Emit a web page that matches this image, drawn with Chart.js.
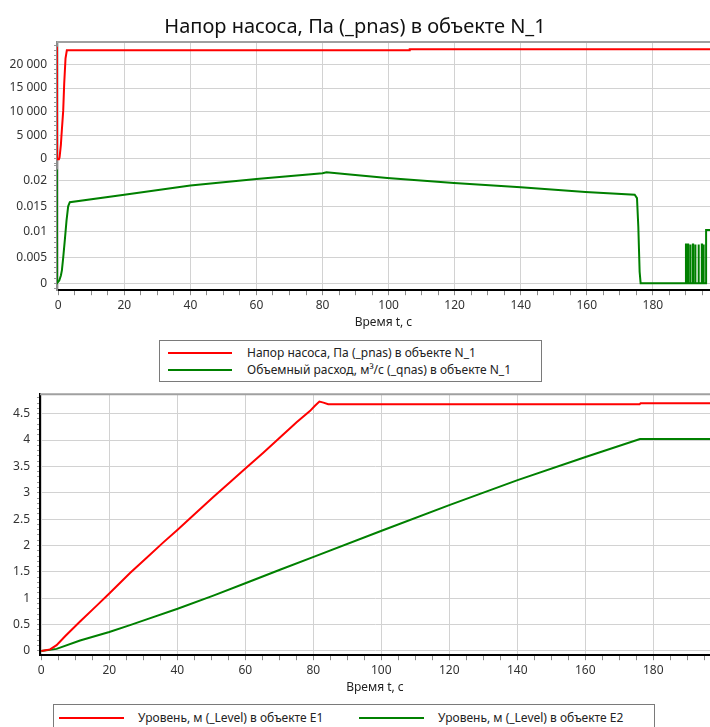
<!DOCTYPE html>
<html>
<head>
<meta charset="utf-8">
<script src="https://cdn.jsdelivr.net/npm/chart.js@4"></script>
<style>
  body { margin:0; background:#fff; width:710px; height:727px; overflow:hidden; position:relative;
         font-family:"Noto Sans", sans-serif; }
  #c1 { position:absolute; left:0; top:0; }
  #c2 { position:absolute; left:0; top:380px; }
  .legend { position:absolute; box-sizing:border-box; border:1px solid #7a7a7a; background:#fff;
            font-size:12px; color:#222; }
  .legend .txt { position:absolute; white-space:nowrap; line-height:16px; }
  .legend .sw { position:absolute; height:2px; }
</style>
</head>
<body>
<canvas id="c1" width="710" height="336"></canvas>
<canvas id="c2" width="710" height="320"></canvas>

<div class="legend" style="left:159px;top:340px;width:383px;height:42px;">
  <div class="sw" style="left:8px;top:11px;width:64px;background:#ff0000"></div>
  <div class="txt" style="left:87px;top:4px;">Напор насоса, Па (_pnas) в объекте N_1</div>
  <div class="sw" style="left:8px;top:28px;width:64px;background:#008000"></div>
  <div class="txt" style="left:87px;top:21px;">Объемный расход, м³/с (_qnas) в объекте N_1</div>
</div>
<div class="legend" style="left:53px;top:704px;width:602px;height:30px;">
  <div class="sw" style="left:5px;top:12px;width:65px;background:#ff0000"></div>
  <div class="txt" style="left:84px;top:5px;">Уровень, м (_Level) в объекте E1</div>
  <div class="sw" style="left:305px;top:12px;width:65px;background:#008000"></div>
  <div class="txt" style="left:384px;top:5px;">Уровень, м (_Level) в объекте E2</div>
</div>

<script>
/* ——— data read off the picture ——— */
// pump head, Pa
const pnasT = [-0.4, -0.35, 0.2, 0.4, 0.8, 1.0, 1.5, 1.8, 2.2, 2.6, 106.3, 106.4, 197.3];
const pnasV = [23750, -130, -130, 300, 3000, 5200, 10200, 15900, 21300, 23000, 23000, 23200, 23200];

// volume flow, m3/s (pump start, slow drift, stop, then short on/off pulses)
const qnasT = [-0.4, -0.35, 0.3, 0.8, 1.1, 1.5, 2.0, 2.5, 3.0, 3.5, 20, 40, 60, 80, 81.2, 88.3, 99.6,
               119.8, 140, 159.6, 174.5, 175.2, 175.6, 176.0, 176.3,
               190.0, 190.02, 190.1, 190.12,
               190.6, 190.62, 190.7, 190.72,
               191.3, 191.32, 191.4, 191.42,
               192.1, 192.12, 192.2, 192.22,
               192.8, 192.82, 192.9, 192.92,
               193.8, 193.82, 193.9, 193.92,
               194.8, 194.82, 194.9, 194.92,
               195.3, 195.32, 195.4, 195.42,
               196.1, 196.12, 197.3];
const qnasV = [0.0222, 0, 0.0005, 0.0015, 0.0025, 0.005, 0.0085, 0.0122, 0.015, 0.0158, 0.01727, 0.01905,
               0.02035, 0.02147, 0.02167, 0.02121, 0.02055, 0.01957, 0.01871, 0.01779, 0.01727, 0.0166,
               0.011, 0.0022, 0,
               0, 0.00755, 0.00755, 0,
               0, 0.00755, 0.00755, 0,
               0, 0.00755, 0.00755, 0,
               0, 0.00755, 0.00755, 0,
               0, 0.00755, 0.00755, 0,
               0, 0.00755, 0.00755, 0,
               0, 0.00755, 0.00755, 0,
               0, 0.00755, 0.00755, 0,
               0, 0.0104, 0.0104];

// tank levels, m
const levelT  = [0, 2.6, 4.5, 7.0, 11.4, 16.3, 20, 26.1, 31, 35.9, 40.1, 45.7, 50.6, 55.5, 60.2,
                 65.3, 70.2, 75.1, 79.0, 80.5, 81.8, 83.0, 84.4, 176.0, 176.3, 196.7];
const levelE1 = [0, 0.03, 0.11, 0.28, 0.56, 0.86, 1.09, 1.48, 1.77, 2.06, 2.30, 2.63, 2.92, 3.20, 3.47,
                 3.76, 4.05, 4.34, 4.55, 4.65, 4.73, 4.71, 4.68, 4.68, 4.70, 4.70];
const level2T  = [0, 4.5, 11.4, 20, 26.1, 31, 40.1, 50.6, 60.2, 70.2, 80.3, 100.1, 120.2, 140.1, 160.1, 176.1, 196.7];
const levelE2  = [0, 0.04, 0.20, 0.36, 0.49, 0.60, 0.80, 1.05, 1.29, 1.54, 1.79, 2.28, 2.77, 3.24, 3.68, 4.02, 4.02];

const TITLE = 'Напор насоса, Па (_pnas) в объекте N_1';
const X_TITLE = 'Время t, с';

/* ——— helpers ——— */
const pts = (t, v) => t.map((x, i) => ({ x, y: v[i] }));
const FONT = { family: '"Noto Sans", sans-serif', size: 12 };
const GRID = '#d2d2d2';
const isMajor = (v, step, every) => Math.round(v / step) % every === 0;
const thousands = v => String(Math.round(v)).replace(/\B(?=(\d{3})+(?!\d))/g, ' ');

// ticks every `step` inside [min, max] (majors get a label + grid line)
const stepTicks = (min, max, step) => {
  const a = [];
  for (let k = Math.ceil(min / step - 1e-9); k * step <= max + 1e-9; k++) a.push({ value: k * step });
  return a;
};

const frameTop = {
  id: 'frameTop',
  beforeDatasetsDraw(chart) {
    const { ctx, chartArea: a } = chart;
    ctx.save();
    ctx.strokeStyle = '#a0a0a0'; ctx.lineWidth = 2;
    ctx.beginPath(); ctx.moveTo(a.left, a.top); ctx.lineTo(a.right + 2, a.top); ctx.stroke();
    ctx.restore();
  }
};

const xAxis = (min, max) => ({
  type: 'linear', min, max, position: 'bottom',
  border: { color: '#000', width: 2 },
  grid: {
    color: c => (c.tick && isMajor(c.tick.value, 5, 4)) ? GRID : 'rgba(0,0,0,0)',
    tickColor: '#8a8a8a', tickLength: 5
  },
  ticks: {
    autoSkip: false, maxRotation: 0, padding: 3,
    color: '#333', font: FONT,
    callback: v => isMajor(v, 5, 4) ? String(Math.round(v)) : ''
  },
  afterBuildTicks: s => { s.ticks = stepTicks(min, max, 5); },
  title: { display: true, text: X_TITLE, color: '#222', font: FONT, padding: { top: 0, bottom: 0 } }
});

const yAxis = (o) => ({
  type: 'linear', position: 'left', min: o.min, max: o.max,
  stack: o.stack, stackWeight: o.weight,
  border: { color: o.border, width: 2 },
  grid: {
    color: c => (c.tick && isMajor(c.tick.value, o.step, o.every)) ? GRID : 'rgba(0,0,0,0)',
    tickColor: '#9a9a9a', tickLength: 3
  },
  ticks: {
    autoSkip: false, padding: 7,
    color: '#333', font: FONT,
    callback: v => isMajor(v, o.step, o.every) ? o.fmt(v) : ''
  },
  afterBuildTicks: s => { s.ticks = stepTicks(o.min, o.max, o.step); },
  afterFit: s => { s.width = o.width; }
});

const line = (label, data, colour, axis) => ({
  label, data, borderColor: colour, backgroundColor: colour, yAxisID: axis,
  borderWidth: 2, pointRadius: 0, tension: 0, fill: false
});

/* ——— top chart: head + flow on stacked axes ——— */
new Chart(document.getElementById('c1'), {
  type: 'line',
  data: {
    datasets: [
      line('Напор насоса, Па (_pnas) в объекте N_1', pts(pnasT, pnasV), '#ff0000', 'yP'),
      line('Объемный расход, м³/с (_qnas) в объекте N_1', pts(qnasT, qnasV), '#008000', 'yQ')
    ]
  },
  options: {
    responsive: false, animation: false,
    layout: { padding: { left: 0, right: 0, top: 0, bottom: 6 } },
    plugins: {
      legend: { display: false }, tooltip: { enabled: false },
      title: { display: true, text: TITLE, color: '#111',
               font: { family: '"Noto Sans", sans-serif', size: 20, weight: 'normal' },
               padding: { top: 15, bottom: 3 } }
    },
    scales: {
      x: xAxis(-0.38, 197.3),
      yQ: yAxis({ min: -0.00138, max: 0.02325, step: 0.001, every: 5, stack: 'n1', weight: 125,
                  border: '#8c8c8c', width: 57, fmt: v => String(Math.round(v * 1000) / 1000) }),
      yP: yAxis({ min: -1130, max: 24760, step: 1000, every: 5, stack: 'n1', weight: 121,
                  border: '#8c8c8c', width: 57, fmt: thousands })
    }
  },
  plugins: [frameTop]
});

/* ——— bottom chart: tank levels ——— */
new Chart(document.getElementById('c2'), {
  type: 'line',
  data: {
    datasets: [
      line('Уровень, м (_Level) в объекте E1', pts(levelT, levelE1), '#ff0000', 'y'),
      line('Уровень, м (_Level) в объекте E2', pts(level2T, levelE2), '#008000', 'y')
    ]
  },
  options: {
    responsive: false, animation: false,
    layout: { padding: { left: 0, right: 0, top: 9, bottom: 5 } },
    plugins: { legend: { display: false }, tooltip: { enabled: false } },
    scales: {
      x: xAxis(-0.38, 196.7),
      y: yAxis({ min: -0.08, max: 4.87, step: 0.1, every: 5, border: '#000', width: 40,
                 fmt: v => String(Math.round(v * 10) / 10) })
    }
  },
  plugins: [frameTop]
});
</script>
</body>
</html>
